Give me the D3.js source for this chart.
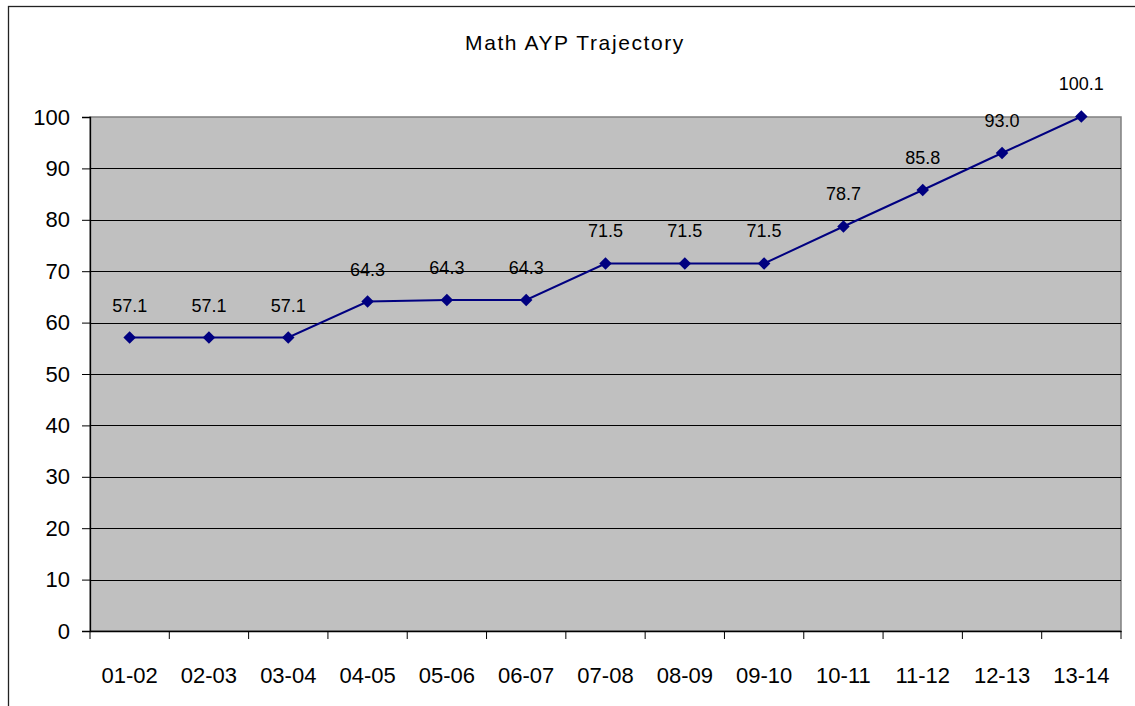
<!DOCTYPE html>
<html><head><meta charset="utf-8">
<script src="https://cdn.jsdelivr.net/npm/d3@7"></script>
<style>body{margin:0;background:#fff}svg{display:block}text{font-family:"Liberation Sans",Arial,sans-serif;fill:#000}</style>
</head><body>
<script>
const categories = ["01-02","02-03","03-04","04-05","05-06","06-07","07-08","08-09","09-10","10-11","11-12","12-13","13-14"];
const values = [57.1,57.1,57.1,64.1,64.4,64.4,71.5,71.5,71.5,78.7,85.8,93.0,100.1];
const labels = ["57.1","57.1","57.1","64.3","64.3","64.3","71.5","71.5","71.5","78.7","85.8","93.0","100.1"];
const yTicks = [0,10,20,30,40,50,60,70,80,90,100];
const title = "Math AYP Trajectory";

const W = 1135, H = 706;
const L = 90, R = 1121, T = 117, B = 631;
const svg = d3.select("body").append("svg").attr("width", W).attr("height", H);

svg.append("rect").attr("x", 8.5).attr("y", 6.5).attr("width", W + 10).attr("height", H + 10)
  .attr("fill", "#fff").attr("stroke", "#222").attr("stroke-width", 1.3);

const x = d3.scaleBand().domain(categories).range([L, R]);
const y = d3.scaleLinear().domain([0, 100]).range([B, T]);

svg.append("rect").attr("x", L).attr("y", T).attr("width", R - L).attr("height", B - T)
  .attr("fill", "#c0c0c0").attr("stroke", "#808080").attr("stroke-width", 1.5);

svg.append("g").selectAll("line").data(yTicks.filter(d => d > 0 && d < 100)).join("line")
  .attr("x1", L).attr("x2", R).attr("y1", d => Math.round(y(d)) + 0.5).attr("y2", d => Math.round(y(d)) + 0.5)
  .attr("stroke", "#000").attr("stroke-width", 1);

// y axis
const yAxis = svg.append("g").attr("transform", `translate(${L},0)`)
  .call(d3.axisLeft(y).tickValues(yTicks).tickSize(8).tickPadding(12).tickFormat(d3.format("d")));
yAxis.select(".domain").attr("stroke", "#000").attr("stroke-width", 1.3);
yAxis.selectAll(".tick line").attr("stroke", "#000");
yAxis.selectAll("text").attr("font-size", 22).attr("font-family", '"Liberation Sans",Arial,sans-serif');

// x axis
const xAxis = svg.append("g").attr("transform", `translate(0,${B})`)
  .call(d3.axisBottom(x).tickSize(0).tickPadding(36));
xAxis.select(".domain").attr("stroke", "#000").attr("stroke-width", 1.3);
xAxis.selectAll("text").attr("font-size", 22).attr("font-family", '"Liberation Sans",Arial,sans-serif');
svg.append("g").selectAll("line").data(categories.concat([null])).join("line")
  .attr("x1", (d, i) => d === null ? R : x(d)).attr("x2", (d, i) => d === null ? R : x(d))
  .attr("y1", B).attr("y2", B + 8).attr("stroke", "#000").attr("stroke-width", 1);

const cx = d => x(d) + x.bandwidth() / 2;
svg.append("path").datum(values)
  .attr("d", d3.line().x((d, i) => cx(categories[i])).y(d => y(d)))
  .attr("fill", "none").attr("stroke", "#000080").attr("stroke-width", 2);

svg.append("g").selectAll("path").data(values).join("path")
  .attr("d", d3.symbol(d3.symbolDiamond2, 100))
  .attr("transform", (d, i) => `translate(${cx(categories[i])},${y(d)})`)
  .attr("fill", "#000080");

svg.append("g").selectAll("text").data(labels).join("text")
  .attr("x", (d, i) => cx(categories[i])).attr("y", (d, i) => y(values[i]) - 26)
  .attr("text-anchor", "middle").attr("font-size", 18).text(d => d);

svg.append("text").attr("x", 575).attr("y", 50).attr("text-anchor", "middle")
  .attr("font-size", 21).attr("letter-spacing", 1.6).text(title);
</script>
</body></html>
